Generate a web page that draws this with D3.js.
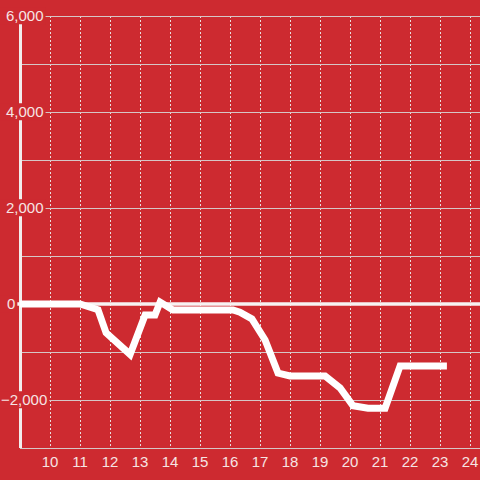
<!DOCTYPE html>
<html>
<head>
<meta charset="utf-8">
<script src="https://cdn.jsdelivr.net/npm/d3@7"></script>
<style>
  html, body { margin: 0; padding: 0; background: #cd2a30; }
  svg { display: block; }
</style>
</head>
<body>
<div id="chart"></div>
<script>
// hours of the day vs running value
const hours = [9.0, 11.0, 11.6, 11.87, 12.67, 13.17, 13.5, 13.67, 14.1, 16.1, 16.33, 16.73, 17.17, 17.6, 18.0, 19.17, 19.67, 20.1, 20.6, 21.17, 21.67, 23.23];
const values = [0, 0, -120, -600, -1050, -230, -230, 40, -125, -125, -170, -310, -750, -1440, -1500, -1500, -1750, -2120, -2170, -2170, -1290, -1290];
const xTicks = [10, 11, 12, 13, 14, 15, 16, 17, 18, 19, 20, 21, 22, 23, 24];
const yGrid = [-3000, -2000, -1000, 0, 1000, 2000, 3000, 4000, 5000, 6000];
const yLabels = [-2000, 0, 2000, 4000, 6000];

const W = 480, H = 480;
const bg = '#cd2a30';
const textColor = '#f6e4e4';

const svg = d3.select('#chart').append('svg')
    .attr('width', W)
    .attr('height', H)
    .style('font-family', '"Liberation Sans", Arial, sans-serif');

svg.append('rect').attr('width', W).attr('height', H).attr('fill', bg);

const x = d3.scaleLinear().domain([9, 24 + 1 / 3]).range([20, 480]);
const y = d3.scaleLinear().domain([-3000, 6000]).range([448, 16]);

// vertical dashed grid
svg.append('g')
    .selectAll('line')
    .data(xTicks)
    .join('line')
    .attr('x1', d => Math.round(x(d)) + 0.5)
    .attr('x2', d => Math.round(x(d)) + 0.5)
    .attr('y1', 16)
    .attr('y2', 448)
    .attr('stroke', '#e8dede')
    .attr('stroke-width', 1)
    .attr('stroke-dasharray', '2,2');

// horizontal solid grid
svg.append('g')
    .selectAll('line')
    .data(yGrid.filter(d => d !== 0))
    .join('line')
    .attr('x1', 20)
    .attr('x2', 480)
    .attr('y1', d => Math.round(y(d)) + 0.5)
    .attr('y2', d => Math.round(y(d)) + 0.5)
    .attr('stroke', '#d6c6c6')
    .attr('stroke-width', 1);

// y axis line
svg.append('line')
    .attr('x1', 20.5).attr('x2', 20.5)
    .attr('y1', 16).attr('y2', 448)
    .attr('stroke', '#f2eded')
    .attr('stroke-width', 3);

// zero line
svg.append('line')
    .attr('x1', 17).attr('x2', 480)
    .attr('y1', y(0)).attr('y2', y(0))
    .attr('stroke', '#f7f2f2')
    .attr('stroke-width', 3.5);

// y labels with background patches
const yl = svg.append('g');
yLabels.forEach(v => {
    const g = yl.append('g');
    const t = g.append('text')
        .attr('x', v < 0 ? 1 : (v === 0 ? 7 : 6))
        .attr('y', y(v))
        .attr('dy', '0.35em')
        .attr('fill', textColor)
        .style('font-size', '15px')
        .text(d3.format(',')(v));
    const b = t.node().getBBox();
    g.insert('rect', 'text')
        .attr('x', 0)
        .attr('y', b.y)
        .attr('width', b.x + b.width + 2)
        .attr('height', b.height)
        .attr('fill', bg);
});

// x labels
svg.append('g')
    .selectAll('text')
    .data(xTicks)
    .join('text')
    .attr('x', d => x(d))
    .attr('y', 467)
    .attr('text-anchor', 'middle')
    .attr('fill', textColor)
    .style('font-size', '15px')
    .text(d => d);

// data line
const pts = hours.map((h, i) => [h, values[i]]);
svg.append('path')
    .datum(pts)
    .attr('d', d3.line().x(d => x(d[0])).y(d => y(d[1])))
    .attr('fill', 'none')
    .attr('stroke', '#ffffff')
    .attr('stroke-width', 7)
    .attr('stroke-linejoin', 'miter');
</script>
</body>
</html>
